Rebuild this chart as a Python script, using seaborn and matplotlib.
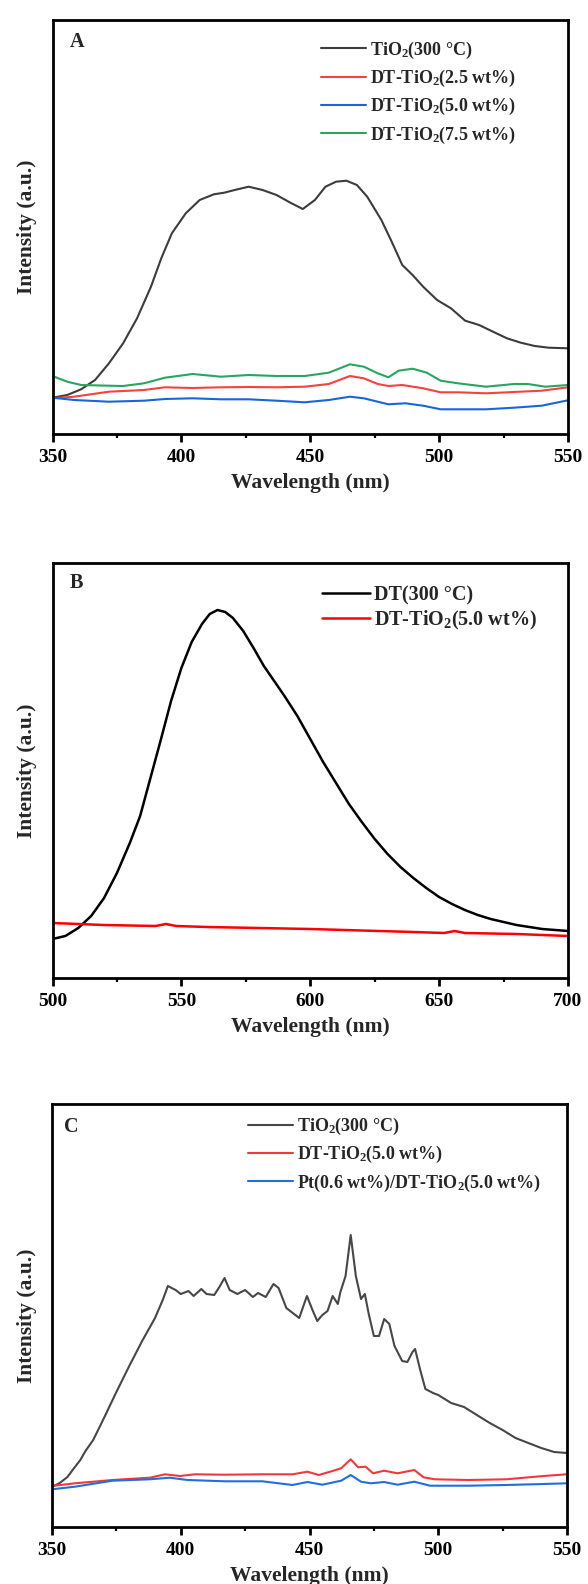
import matplotlib
matplotlib.use("Agg")
import matplotlib.pyplot as plt
import seaborn as sns
import pandas as pd
from matplotlib.ticker import MultipleLocator

# ---------------- data (a.u.) ----------------
# Panel A
a_tio2_x = [350, 355.7, 361.1, 366.5, 371.9, 377.4, 382.8, 388.2, 392.2, 396.3, 401.7, 407.1, 412.6, 416.6,
            420.7, 426.1, 431.5, 436.9, 442.3, 447.1, 451.8, 455.9, 460.0, 464.0, 468.1, 472.1, 477.6, 481.6,
            485.7, 489.7, 493.8, 499.2, 504.6, 510.1, 515.5, 520.9, 526.3, 531.7, 537.1, 542.5, 550]
a_tio2_y = [36.3, 39, 44.7, 54, 70.7, 90.7, 115.7, 147.3, 175.7, 200.7, 220.7, 234, 239.7, 241.3,
            244, 247.3, 244, 239, 231.3, 225, 234, 247.3, 252.3, 253.3, 249, 237.3, 214, 192.3,
            169, 159, 147.3, 134, 125.7, 113.3, 109, 102.3, 95.7, 91.3, 88, 86.3, 85.7]

a_g_x = [350, 355.7, 361.1, 371.9, 377.4, 385.5, 393.6, 404.4, 415.3, 426.1, 436.9, 447.8, 457.2, 465.4,
         470.8, 476.2, 480.3, 484.3, 489.7, 495.2, 500.6, 507.3, 518.2, 529.0, 534.4, 541.2, 550]
a_g_y = [58, 52.3, 49, 48.3, 48, 50.7, 56.3, 60, 57.3, 59, 58, 58, 61.3, 69.7,
         67.3, 60.7, 56.7, 63.3, 65.3, 61.3, 53.3, 50.7, 47.3, 50, 50, 47.3, 49]

a_r_x = [350, 358.4, 371.9, 385.5, 393.6, 404.4, 415.3, 426.1, 436.9, 447.8, 457.2, 465.4, 470.8, 476.2,
         480.3, 485.7, 493.8, 500.6, 507.3, 518.2, 529.0, 539.8, 550]
a_r_y = [35.7, 37.3, 42.3, 44, 46.7, 46, 46.7, 47, 46.7, 47.3, 50, 58, 55.7, 50,
         48, 49, 45.7, 41.7, 41.7, 40.7, 42, 43.3, 46.7]

a_b_x = [350, 358.4, 371.9, 385.5, 393.6, 404.4, 415.3, 426.1, 436.9, 447.8, 457.2, 465.4, 470.8, 480.3,
         487.0, 493.8, 500.6, 507.3, 518.2, 529.0, 539.8, 550]
a_b_y = [36.3, 34, 32.3, 33.3, 35, 35.7, 34.7, 34.7, 33.3, 31.7, 34, 37.3, 35.7, 29.7,
         30.7, 28.3, 24.7, 24.7, 24.7, 26.3, 28.3, 33.7]

# Panel B
b_dt_x = [500, 505, 510, 515, 520, 525, 530, 534, 538, 542, 546, 550, 554, 558, 561, 564, 567, 570, 574,
          578, 582, 586, 590, 595, 600, 605, 610, 615, 620, 625, 630, 635, 640, 645, 650, 655, 660, 665,
          670, 675, 680, 685, 690, 695, 700]
b_dt_y = [39, 42, 50, 62, 80, 105, 135, 162, 200, 238, 277, 310, 336, 354, 364, 368, 366, 360, 347,
          330, 312, 297, 282, 262, 239, 216, 195, 174, 156, 139, 124, 111, 100, 90, 81, 74, 68, 63,
          59, 56, 53, 51, 49, 48, 47]
b_dtt_x = [500, 520, 540, 544, 548, 560, 600, 640, 652, 656, 660, 680, 700]
b_dtt_y = [55, 53, 52, 54, 52, 51, 49, 46, 45, 47, 45, 44, 42]

# Panel C
c_tio2_x = [350, 353, 356, 358, 361, 363, 366, 370, 375, 380, 385, 390, 393, 395, 398, 400, 403, 405, 408,
            410, 413, 415, 417, 419, 422, 425, 428, 430, 433, 436, 438, 441, 444, 446, 449, 451, 453, 455,
            457, 459, 461, 462, 464, 466, 468, 470, 471.5, 473, 475, 477, 479, 481, 483, 486, 488, 490,
            491, 493, 495, 498, 500, 505, 510, 515, 520, 525, 530, 535, 540, 545, 550]
c_tio2_y = [37, 41, 47, 54, 64, 73, 84, 105, 132, 158, 183, 206, 224, 238, 234, 230, 233, 228, 235,
            230, 229, 237, 246, 234, 230, 234, 227, 231, 227, 240, 236, 216, 210, 206, 228, 215, 203, 209,
            213, 228, 220, 232, 248, 289, 248, 225, 230, 210, 188, 188, 205, 200, 178, 163, 162, 172,
            175, 154, 135, 131, 129, 121, 117, 109, 101, 94, 86, 81, 76, 72, 71]

c_r_x = [350, 358.9, 373.5, 388, 393.9, 399.7, 405.5, 417.2, 431.7, 443.4, 449.2, 453.6, 458, 462.3, 466,
         468.9, 471.8, 474.7, 479, 484.2, 490.7, 494.3, 498.7, 511.8, 526.4, 540.9, 550]
c_r_y = [38.0, 40.7, 44.0, 46.3, 49.7, 48.0, 49.7, 49.3, 49.7, 49.7, 52.3, 49.0, 52.3, 55.7, 64.7,
         56.7, 57.3, 50.7, 53.3, 50.7, 54.0, 46.7, 44.7, 44.0, 44.7, 48.0, 49.7]

c_b_x = [350, 358.9, 373.5, 388, 395.7, 402.6, 417.2, 431.7, 443.4, 449.2, 455, 462.3, 466, 470, 473.8,
         479, 484.2, 490.7, 496.8, 511.8, 526.4, 540.9, 550]
c_b_y = [34.7, 37.3, 43.3, 44.7, 46.3, 44.0, 42.7, 42.7, 39.0, 42.0, 39.3, 43.3, 49.0, 42.3, 40.7,
         42.0, 39.3, 42.3, 38.3, 38.3, 39.0, 40.0, 40.7]

x_ticks_a = [350, 400, 450, 500, 550]
x_ticks_b = [500, 550, 600, 650, 700]

# ---------------- style ----------------
sns.set_theme(style="white")
plt.rcParams["font.family"] = ["Liberation Serif", "DejaVu Serif"]
plt.rcParams["font.weight"] = "bold"
plt.rcParams["axes.labelweight"] = "bold"
plt.rcParams["mathtext.fontset"] = "custom"
plt.rcParams["mathtext.rm"] = "Liberation Serif:bold"
plt.rcParams["mathtext.bf"] = "Liberation Serif:bold"
plt.rcParams["mathtext.it"] = "Liberation Serif:bold:italic"

TIO2 = "TiO$_\\mathbf{2}$"

fig = plt.figure(figsize=(5.88, 15.84), dpi=100)
W, H = 588.0, 1584.0


def make_ax(left, right, top, bottom):
    return fig.add_axes([left / W, 1 - bottom / H, (right - left) / W, (bottom - top) / H])


axA = make_ax(52.5, 568, 20, 434)
axB = make_ax(52.5, 568, 563, 978)
axC = make_ax(52, 567, 1104, 1527)


def series(ax, xs, ys, color, label, lw=1.5):
    df = pd.DataFrame({"x": xs, "y": ys})
    sns.lineplot(data=df, x="x", y="y", ax=ax, color=color, lw=lw, label=label)


series(axA, a_tio2_x, a_tio2_y, "#3c3c3c", TIO2 + "(300 °C)")
series(axA, a_r_x, a_r_y, "#f5423f", "DT-" + TIO2 + "(2.5 wt%)")
series(axA, a_b_x, a_b_y, "#1766db", "DT-" + TIO2 + "(5.0 wt%)")
series(axA, a_g_x, a_g_y, "#28a55f", "DT-" + TIO2 + "(7.5 wt%)")

series(axB, b_dt_x, b_dt_y, "#000000", "DT(300 °C)", lw=1.8)
series(axB, b_dtt_x, b_dtt_y, "#ff0000", "DT-" + TIO2 + "(5.0 wt%)", lw=1.8)

series(axC, c_tio2_x, c_tio2_y, "#474747", TIO2 + "(300 °C)")
series(axC, c_r_x, c_r_y, "#f0393c", "DT-" + TIO2 + "(5.0 wt%)")
series(axC, c_b_x, c_b_y, "#1f6fe0", "Pt(0.6 wt%)/DT-" + TIO2 + "(5.0 wt%)")


def style(ax, ticks, ylim, letter, lx, ly, leg_xy, leg_size, leg_hl, leg_ls):
    ax.set_xlim(ticks[0], ticks[-1])
    ax.set_ylim(*ylim)
    ax.set_xticks(ticks)
    ax.xaxis.set_minor_locator(MultipleLocator(25))
    ax.set_yticks([])
    for s in ax.spines.values():
        s.set_visible(True)
        s.set_color("black")
        s.set_linewidth(2.0)
    ax.tick_params(axis="x", which="major", bottom=True, direction="out", length=5.5, width=2,
                   labelsize=14, pad=5, colors="black")
    ax.tick_params(axis="x", which="minor", bottom=True, direction="out", length=3.2, width=1.6,
                   colors="black")
    ax.set_xlabel("Wavelength (nm)", fontsize=15.5, fontweight="bold", labelpad=5)
    ax.set_ylabel("Intensity (a.u.)", fontsize=15.5, fontweight="bold")
    ax.yaxis.set_label_coords(-0.03, 0.5)
    ax.text(lx, ly, letter, transform=ax.transAxes, fontsize=14.5, fontweight="bold",
            ha="left", va="center")
    ax.legend(loc="upper left", bbox_to_anchor=leg_xy, frameon=False, borderpad=0,
              borderaxespad=0, handlelength=leg_hl, handletextpad=0.22, labelspacing=leg_ls,
              prop={"size": leg_size, "weight": "bold"})
    ax.set_facecolor("white")


style(axA, x_ticks_a, (0, 414), "A", 0.034, 0.948, (0.521, 0.953), 13, 2.5, 0.40)
style(axB, x_ticks_b, (0, 415), "B", 0.034, 0.952, (0.522, 0.947), 14.5, 2.4, 0.18)
style(axC, x_ticks_a, (-3, 420), "C", 0.023, 0.946, (0.381, 0.972), 13, 2.5, 0.40)

fig.savefig("out.png", dpi=100, facecolor="white")
